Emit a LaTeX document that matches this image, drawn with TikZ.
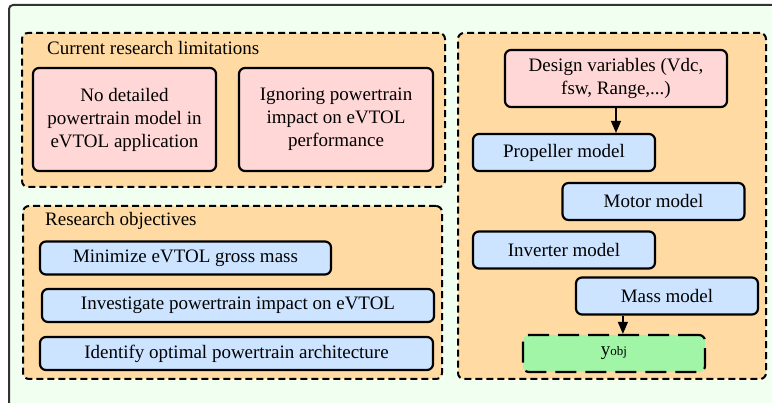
\documentclass[tikz,border=0pt]{standalone}
\usepackage{fontspec}
\setmainfont{Liberation Serif}
\usepackage{tikz}
\usetikzlibrary{arrows.meta}
\definecolor{bgGreen}{HTML}{F0FFF0}
\definecolor{grpOrange}{HTML}{FFDAA2}
\definecolor{limPink}{HTML}{FFD7D7}
\definecolor{modBlue}{HTML}{CCE4FF}
\definecolor{outGreen}{HTML}{A0F5A6}

\begin{document}
\begin{tikzpicture}[
    x=1pt,y=-1pt,
    txt/.style={font=\fontsize{19}{23}\selectfont},
    group/.style 2 args={draw=black,line width=2pt,dash pattern=on 7pt off 4pt,
                         fill=grpOrange,rounded corners=6pt,
                         minimum width=#1,minimum height=#2,inner sep=0pt},
    box/.style 2 args={draw=black,line width=2.2pt,rounded corners=6pt,
                       fill=#1,txt,align=center,inner sep=0pt,minimum height=#2},
    box/.default={modBlue}{37pt},
    flow/.style={line width=1.3pt,-{Triangle[length=12pt,width=10pt]}},
  ]
  \useasboundingbox (0,0) rectangle (772,403);
  \clip (0,0) rectangle (772,403);
  % Outer frame, runs past the right and bottom edge
  \draw[draw=black!80,line width=2pt,fill=bgGreen,rounded corners=4pt] (9,5) rectangle (800,430);

  % Groups
  \node[group={423pt}{154pt}] (limits) at (233.5,110) {};
  \node[group={419pt}{173pt}] (objectives) at (232.5,292.5) {};
  \node[group={308pt}{346pt}] (models) at (612,206) {};
  \node[txt,anchor=west,inner sep=0pt] (limitsTitle) at (47,48) {Current research limitations};
  \node[txt,anchor=west,inner sep=0pt] (objTitle) at (45,221) {Research objectives};

  % Current research limitations
  \node[box={limPink}{103pt},minimum width=183pt] (limA) at (124.5,119.5)
    {No detailed\\powertrain model in\\eVTOL application};
  \node[box={limPink}{103pt},minimum width=194pt] (limB) at (336,119.5)
    {Ignoring powertrain\\impact on eVTOL\\performance};

  % Research objectives
  \foreach \n/\cx/\cy/\w/\t in {objA/185.5/258/291/Minimize eVTOL gross mass,
                                objB/238/305.5/392/Investigate powertrain impact on eVTOL,
                                objC/236.5/353.5/393/Identify optimal powertrain architecture}{
    \node[box={modBlue}{33pt},minimum width=\w pt] (\n) at (\cx,\cy) {\t};
  }

  % Model chain
  \node[box={limPink}{57pt},minimum width=222pt] (design) at (616,78.5)
    {Design variables (Vdc,\\fsw, Range,...)};
  \foreach \n/\cx/\cy/\t in {prop/564/152.5/Propeller model,
                             motor/653.5/201.5/Motor model,
                             inv/564/250/Inverter model,
                             mass/667/296/Mass model}{
    \node[box,minimum width=182pt] (\n) at (\cx,\cy) {\t};
  }
  \node[box={outGreen}{37pt},minimum width=182pt,dash pattern=on 21pt off 9pt] (yobj) at (614,353.5)
    {y\fontsize{13}{16}\selectfont obj};

  % Connectors
  \draw[flow] (design.south) -- (design.south |- prop.north);
  \draw[flow] ([xshift=48pt]mass.south west) -- ([xshift=48pt]mass.south west |- yobj.north);
\end{tikzpicture}
\end{document}
